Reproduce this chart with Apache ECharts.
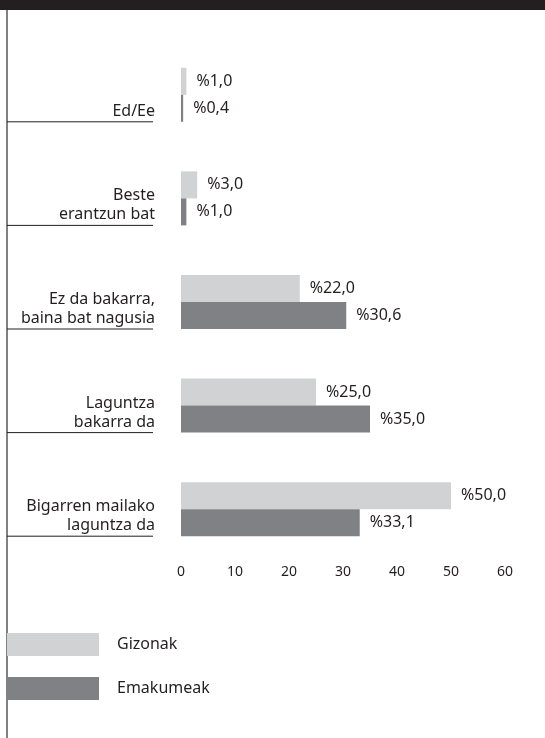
<!DOCTYPE html>
<html>
<head>
<meta charset="utf-8">
<script src="https://cdn.jsdelivr.net/npm/echarts@6/dist/echarts.min.js"></script>
<style>
  html, body { margin: 0; padding: 0; background: #fff; }
  #chart { width: 545px; height: 738px; }
</style>
</head>
<body>
<div id="chart"></div>
<script>
  // erantzunak, goitik behera
  var categories = ['Ed/Ee', 'Beste\nerantzun bat', 'Ez da bakarra,\nbaina bat nagusia', 'Laguntza\nbakarra da', 'Bigarren mailako\nlaguntza da'];
  var seriesNames = ['Gizonak', 'Emakumeak'];
  var gizonak = [1.0, 3.0, 22.0, 25.0, 50.0];
  var emakumeak = [0.4, 1.0, 30.6, 35.0, 33.1];
  var xTicks = { min: 0, max: 60, interval: 10 };

  var lightGrey = '#d1d2d4';
  var darkGrey = '#808184';
  var ink = '#231f20';
  var font = 'Noto Sans';

  function pct(v) {
    return '%' + v.toFixed(1).replace('.', ',');
  }

  var barLabel = {
    show: true,
    position: 'right',
    distance: 10,
    color: ink,
    fontFamily: font,
    fontSize: 16,
    formatter: function (p) { return pct(p.value); }
  };

  var chart = echarts.init(document.getElementById('chart'));
  var option = {
    animation: false,
    textStyle: { fontFamily: font },
    grid: { left: 181, width: 324, top: 43, height: 518 },
    legend: {
      data: seriesNames,
      orient: 'vertical',
      left: 7,
      top: 633,
      padding: 0,
      icon: 'rect',
      itemWidth: 92,
      itemHeight: 23,
      itemGap: 21,
      selectedMode: false,
      textStyle: { color: ink, fontSize: 16, fontFamily: font, padding: [0, 0, 0, 13] }
    },
    xAxis: {
      type: 'value',
      min: xTicks.min,
      max: xTicks.max,
      interval: xTicks.interval,
      axisLine: { show: false },
      axisTick: { show: false },
      splitLine: { show: false },
      axisLabel: { color: ink, fontSize: 14, fontFamily: font, margin: 4 }
    },
    yAxis: {
      type: 'category',
      data: categories,
      inverse: true,
      axisLine: { show: false },
      axisTick: { show: false },
      axisLabel: { show: false }
    },
    series: [
      {
        name: seriesNames[0],
        type: 'bar',
        data: gizonak,
        barWidth: 27,
        barGap: '0%',
        itemStyle: { color: lightGrey },
        label: barLabel
      },
      {
        name: seriesNames[1],
        type: 'bar',
        data: emakumeak,
        barWidth: 27,
        barGap: '0%',
        itemStyle: { color: darkGrey },
        label: barLabel
      },
      {
        // kategoria-izenak eta azpiko marrak
        type: 'custom',
        clip: false,
        silent: true,
        data: categories.map(function (c, i) { return [0, i]; }),
        renderItem: function (params, api) {
          var p = api.coord([0, api.value(1)]);
          var lineY = p[1] + 27;
          return {
            type: 'group',
            children: [
              {
                type: 'line',
                shape: { x1: 7, y1: lineY, x2: p[0] - 28, y2: lineY },
                style: { stroke: ink, lineWidth: 1 }
              },
              {
                type: 'text',
                style: {
                  x: p[0] - 26,
                  y: lineY - 1,
                  text: categories[params.dataIndex],
                  align: 'right',
                  verticalAlign: 'bottom',
                  fill: ink,
                  font: '16px "' + font + '"',
                  lineHeight: 19
                }
              }
            ]
          };
        }
      }
    ],
    graphic: [
      { type: 'rect', shape: { x: 0, y: 0, width: 545, height: 10 }, style: { fill: ink }, silent: true },
      { type: 'rect', shape: { x: 6, y: 10, width: 2, height: 728 }, style: { fill: darkGrey }, silent: true }
    ]
  };
  chart.setOption(option);
</script>
</body>
</html>
